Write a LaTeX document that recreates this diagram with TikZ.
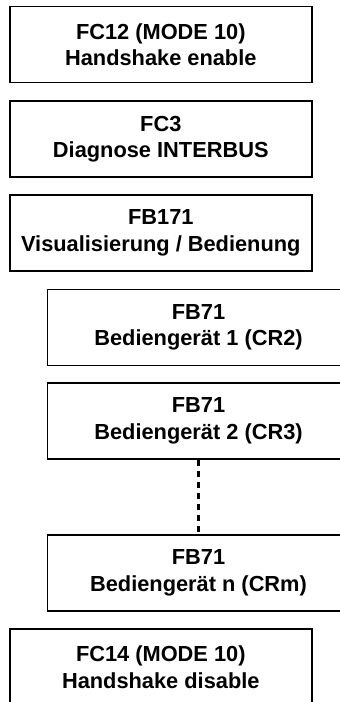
\documentclass[tikz,border=0pt]{standalone}
\usepackage{fontspec}
\setmainfont{Liberation Sans}
\begin{document}
\begin{tikzpicture}[x=1pt,y=-1pt,
  blk/.style={draw, line width=1.5pt, rectangle, inner sep=0pt,
    minimum width=302pt, minimum height=76pt, align=center,
    font=\bfseries\fontsize{21.8}{26.4}\selectfont},
  dashline/.style={line width=2.4pt, dash pattern=on 6.5pt off 4.5pt}]
\clip (0,0) rectangle (340,702);
% main sequence of blocks
\node[blk] (fcA) at (160.8,44.5)  {FC12 (MODE 10)\\Handshake enable};
\node[blk] (fcB) at (160.8,139)   {FC3\\Diagnose INTERBUS};
\node[blk] (fbV) at (160.8,233)   {FB171\\Visualisierung / Bedienung};
% indented operator-panel blocks
\node[blk] (fbA) at (198.5,327.5) {FB71\\Bediengerät 1 (CR2)};
\node[blk] (fbB) at (198.5,421)   {FB71\\Bediengerät 2 (CR3)};
\node[blk] (fbN) at (198.5,573)   {FB71\\Bediengerät n (CRm)};
\node[blk] (fcC) at (160.8,667)   {FC14 (MODE 10)\\Handshake disable};
% elided panels in between
\draw[dashline] (fbB.south) -- (fbN.north);
\end{tikzpicture}
\end{document}
